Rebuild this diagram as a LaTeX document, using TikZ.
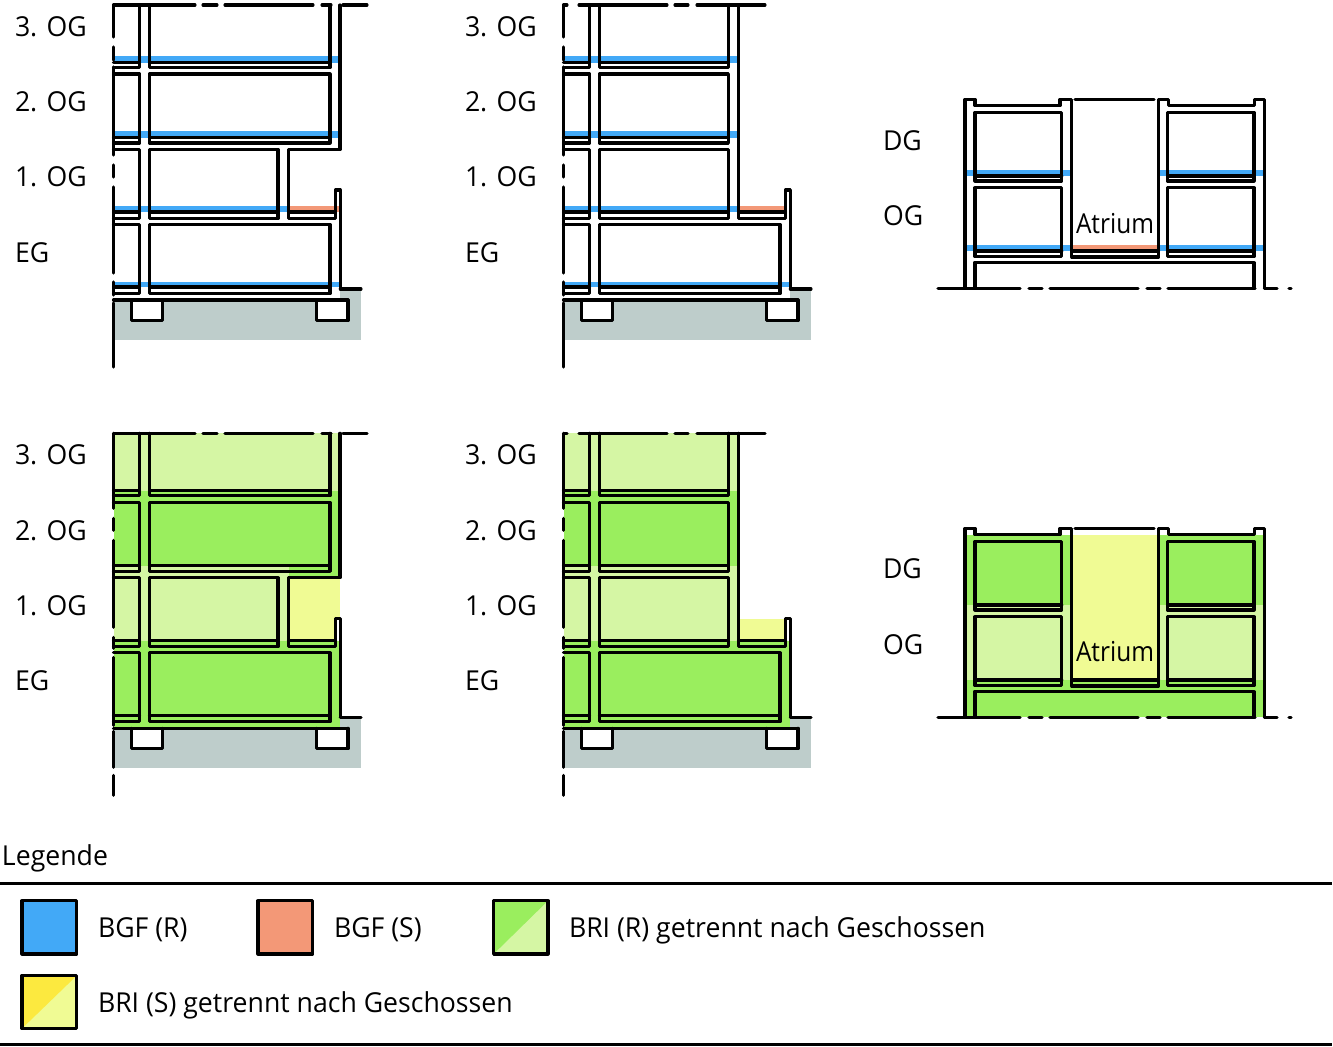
\documentclass[tikz,border=0pt]{standalone}
\usepackage{fontspec}
\setmainfont[FakeStretch=0.97]{Open Sans}
\newfontfamily\atriumfont[FakeStretch=0.89]{Open Sans}
\definecolor{bgfr}{HTML}{42A9F7}
\definecolor{bgfs}{HTML}{F39877}
\definecolor{brirD}{HTML}{9AEE5E}
\definecolor{brirL}{HTML}{D5F6A4}
\definecolor{brisD}{HTML}{FCE93F}
\definecolor{brisL}{HTML}{F0FB94}
\definecolor{soil}{HTML}{BECDCB}
\tikzset{
  x=0.75pt,y=-0.75pt,
  wall/.style={draw=black,line width=2.35pt,line cap=round,line join=round},
  rule/.style={draw=black,line width=2pt},
  lab/.style={anchor=base west,inner sep=0pt,outer sep=0pt,font=\fontsize{20.6}{24}\selectfont},
  swatch/.style={draw=black,line width=2.35pt,line join=round}
}
% room with floor finish: x1,x2,top,finish,bottom
\newcommand\roomR[5]{\draw[wall] (#1,#3) rectangle (#2,#5); \draw[wall] (#1,#4) -- (#2,#4);}
% left room, open on the cut side
\newcommand\roomL[3]{\draw[wall] (113.5,#1) -- (139.5,#1) -- (139.5,#3) -- (113.5,#3); \draw[wall] (113.5,#2) -- (139.5,#2);}
\newcommand\Dashes[1]{\foreach \a/\b in {#1} {\draw[wall] (113.5,\a) -- (113.5,\b);}}
\newcommand\HDashes[1]{\foreach \a/\b in {#1} {\draw[wall] (\a,5) -- (\b,5);}}
\newcommand\Ground{%
  \fill[soil] (113.5,300) rectangle (361,340);
  \fill[soil] (340,289) rectangle (361,300);
  \fill[white] (131.5,300) rectangle (162.5,320.5);
  \fill[white] (316.5,300) rectangle (348,320.5);
}
\newcommand\Common{%
  \draw[wall] (131.5,300) -- (131.5,320.5) -- (162.5,320.5) -- (162.5,300);
  \draw[wall] (316.5,300) -- (316.5,320.5) -- (348,320.5) -- (348,300);
  \draw[wall] (113.5,300) -- (348,300);
  \draw[wall] (340.3,289) -- (361,289);
  \draw[wall] (139.5,5) -- (139.5,67.5) -- (113.5,67.5);
  \draw[wall] (113.5,62.5) -- (139.5,62.5);
  \roomL{74}{137.5}{143}
  \roomL{149.5}{212}{218.5}
  \roomL{224.5}{287}{293.5}
  \roomR{149.5}{330}{224.5}{287}{293.5}
  \draw[wall] (288.5,212) -- (335.5,212);
}
\newcommand\BuildA{%
  \Common
  \draw[wall] (149.5,5) -- (149.5,67.5) -- (330,67.5) -- (330,5);
  \draw[wall] (149.5,62.5) -- (330,62.5);
  \roomR{149.5}{330}{74}{137.5}{143}
  \roomR{149.5}{278}{149.5}{212}{218.5}
  \draw[wall] (340,5) -- (340,149.5) -- (288.5,149.5) -- (288.5,218.5) -- (335.5,218.5) -- (335.5,190) -- (340.3,190) -- (340.3,289);
  \HDashes{113.5/195,203/217,225/313,322/331,343/367}
}
\newcommand\BuildB{%
  \Common
  \draw[wall] (149.5,5) -- (149.5,67.5) -- (278.3,67.5) -- (278.3,5);
  \draw[wall] (149.5,62.5) -- (278.3,62.5);
  \roomR{149.5}{278.3}{74}{137.5}{143}
  \roomR{149.5}{278.3}{149.5}{212}{218.5}
  \draw[wall] (288.3,5) -- (288.3,218.5) -- (335.5,218.5) -- (335.5,190) -- (340.3,190) -- (340.3,289);
  \HDashes{113.5/117,129/217,225/238,247/315}
}
\newcommand\BuildC{%
  \draw[wall] (975,288.3) -- (975,262.7);
  \draw[wall] (965,288.3) -- (965,99.3) -- (975,99.3) -- (975,105.7) -- (1060,105.7) -- (1060,99.3) -- (1071.7,99.3) -- (1071.7,257) -- (1158.5,257) -- (1158.5,99.3) -- (1168.5,99.3) -- (1168.5,105.7) -- (1254.5,105.7) -- (1254.5,99.3) -- (1264.5,99.3) -- (1264.5,288.3);
  \draw[wall] (1075,99.3) -- (1154,99.3);
  \draw[wall] (1071.7,251) -- (1158.5,251);
  \roomR{975}{1061.7}{112.3}{176}{181}
  \roomR{975}{1061.7}{187.7}{251}{256.7}
  \roomR{1167.5}{1254}{112.3}{176}{181}
  \roomR{1167.5}{1254}{187.7}{251}{256.7}
  \draw[wall] (975,288.3) -- (975,262.7) -- (1254,262.7) -- (1254,288.3);
  \foreach \a/\b in {938/1020,1029/1042,1050/1138,1147/1160,1168/1255,1264.5/1277,1289/1291} {\draw[wall] (\a,288.3) -- (\b,288.3);}
}
\begin{document}
\begin{tikzpicture}
\useasboundingbox (0,0) rectangle (1333,1046);
\fill[white] (0,0) rectangle (1333,1046);
%---- top left
\Ground
\fill[bgfr] (113.5,56) rectangle (340,62.5);
\fill[bgfr] (113.5,131) rectangle (340,137.5);
\fill[bgfr] (113.5,206) rectangle (288.5,212);
\fill[bgfs] (288.5,206) rectangle (340,212);
\fill[bgfr] (113.5,281.5) rectangle (340,287);
\BuildA
\Dashes{5/37,47/60,67/155,165/177,187/273,282/295,303/367}
%---- top middle
\begin{scope}[shift={(450,0)}]
\Ground
\fill[bgfr] (113.5,56) rectangle (288.3,62.5);
\fill[bgfr] (113.5,131) rectangle (288.3,137.5);
\fill[bgfr] (113.5,206) rectangle (288.3,212);
\fill[bgfs] (288.3,206) rectangle (336,212);
\fill[bgfr] (113.5,281.5) rectangle (340,287);
\BuildB
\Dashes{5/37,47/60,67/155,165/177,187/273,282/295,303/367}
\end{scope}
%---- top right
\fill[bgfr] (965,170) rectangle (1071.7,176);
\fill[bgfr] (1158.5,170) rectangle (1264.5,176);
\fill[bgfr] (965,245) rectangle (1071.7,251);
\fill[bgfs] (1071.7,245) rectangle (1158.5,251);
\fill[bgfr] (1158.5,245) rectangle (1264.5,251);
\BuildC
%---- bottom left
\begin{scope}[shift={(0,428.3)}]
\Ground
\fill[brirL] (113.5,5) rectangle (340,62.5);
\fill[brirD] (113.5,62.5) rectangle (340,137.5);
\fill[brirD] (288.5,137.5) rectangle (340,149.5);
\fill[brirL] (113.5,137.5) rectangle (288.5,212.5);
\fill[brisL] (288.5,149.5) rectangle (340,190);
\fill[brisL] (288.5,190) rectangle (336,212.5);
\fill[brirD] (113.5,212.5) rectangle (340,300);
\BuildA
\Dashes{5/80,90/102,112/199,209/220,229/297,303/339,347/367}
\end{scope}
%---- bottom middle
\begin{scope}[shift={(450,428.3)}]
\Ground
\fill[brirL] (113.5,5) rectangle (288.3,62.5);
\fill[brirD] (113.5,62.5) rectangle (288.3,137.5);
\fill[brirL] (113.5,137.5) rectangle (288.3,212.5);
\fill[brisL] (288.3,190.5) rectangle (336,212.5);
\fill[brirD] (113.5,212.5) rectangle (340,300);
\BuildB
\Dashes{5/80,90/102,112/199,209/220,229/297,303/339,347/367}
\end{scope}
%---- bottom right
\begin{scope}[shift={(0,429)}]
\fill[brirD] (965,105.7) rectangle (1071.7,176);
\fill[brirD] (1158.5,105.7) rectangle (1264.5,176);
\fill[brirL] (965,176) rectangle (1071.7,251);
\fill[brirL] (1158.5,176) rectangle (1264.5,251);
\fill[brisL] (1071.7,105.7) rectangle (1158.5,251);
\fill[brirD] (965,251) rectangle (1264.5,288.3);
\BuildC
\end{scope}
%---- labels
\foreach \nm/\xx/\yy/\tx in {
  a/15/36/{3. OG},b/15/111/{2. OG},c/15/186/{1. OG},d/15/262/{EG},
  e/465/36/{3. OG},f/465/111/{2. OG},g/465/186/{1. OG},h/465/262/{EG},
  i/883/150/{DG},j/883/225/{OG},
  k/15/464/{3. OG},l/15/540/{2. OG},m/15/615/{1. OG},n/15/690/{EG},
  o/465/464/{3. OG},p/465/540/{2. OG},q/465/615/{1. OG},r/465/690/{EG},
  s/883/578/{DG},t/883/654/{OG},
  u/1076/233.3/{\atriumfont Atrium},v/1076/661.7/{\atriumfont Atrium},
  w/2/865/{Legende},
  x/98/937/{BGF (R)},y/334/937/{BGF (S)},z/569/937/{BRI (R) getrennt nach Geschossen},
  aa/98/1012/{BRI (S) getrennt nach Geschossen}}
  {\node[lab] (lab\nm) at (\xx,\yy) {\tx};}
%---- legend
\draw[rule] (0,883.5) -- (1332,883.5);
\draw[rule] (0,1044.5) -- (1332,1044.5);
\fill[bgfr] (22,900.7) rectangle (76.8,954);
\draw[swatch] (22,900.7) rectangle (76.8,954);
\fill[bgfs] (258,900.7) rectangle (312.5,954);
\draw[swatch] (258,900.7) rectangle (312.5,954);
\fill[brirL] (493.6,900.7) rectangle (548,954);
\fill[brirD] (493.6,954) -- (493.6,900.7) -- (548,900.7) -- cycle;
\draw[swatch] (493.6,900.7) rectangle (548,954);
\fill[brisL] (22,975.5) rectangle (76.8,1028.5);
\fill[brisD] (22,1028.5) -- (22,975.5) -- (76.8,975.5) -- cycle;
\draw[swatch] (22,975.5) rectangle (76.8,1028.5);
\end{tikzpicture}
\end{document}
